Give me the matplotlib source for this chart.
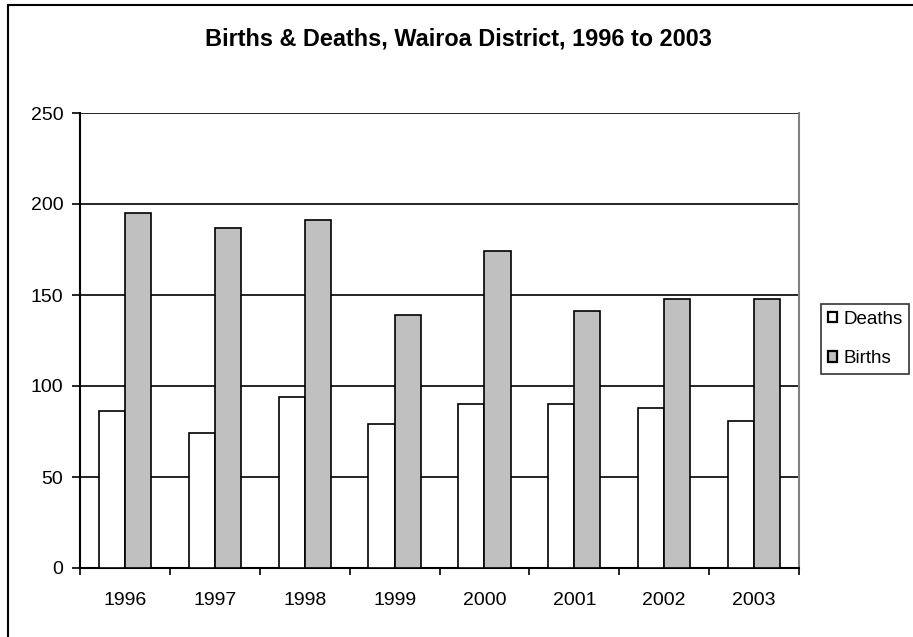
import matplotlib
matplotlib.use("Agg")
import matplotlib.pyplot as plt
import matplotlib.patches as mpatches
import numpy as np

years = ["1996", "1997", "1998", "1999", "2000", "2001", "2002", "2003"]
deaths = [86, 74, 94, 79, 90, 90, 88, 81]
births = [195, 187, 191, 139, 174, 141, 148, 148]
yticks = [0, 50, 100, 150, 200, 250]

plt.rcParams['font.family'] = ['Liberation Sans', 'DejaVu Sans']

W, H = 913, 637
fig = plt.figure(figsize=(W / 100, H / 100), dpi=100)
L, R, T, B = 80, 799, 113, 568
ax = fig.add_axes([L / W, 1 - B / H, (R - L) / W, (B - T) / H])

x = np.arange(len(years))
bw = 0.29
ax.bar(x - bw / 2, deaths, bw, color="white", edgecolor="black", linewidth=1.2, label="Deaths", zorder=3)
ax.bar(x + bw / 2, births, bw, color="#c0c0c0", edgecolor="black", linewidth=1.2, label="Births", zorder=3)

ax.set_xlim(-0.5, len(years) - 0.5)
ax.set_ylim(0, 250)
ax.set_yticks(yticks)
ax.set_yticklabels([str(v) for v in yticks], fontsize=14)
ax.yaxis.grid(True, color="black", linewidth=1.2, zorder=0)
ax.set_axisbelow(True)

# category boundaries as major ticks, labels as minor
ax.set_xticks(np.arange(-0.5, len(years), 1.0))
ax.set_xticklabels([])
ax.set_xticks(x, minor=True)
ax.set_xticklabels(years, minor=True, fontsize=14)
ax.tick_params(axis="x", which="minor", length=0, pad=17)
ax.tick_params(axis="x", which="major", direction="out", length=5, width=1.2)
ax.tick_params(axis="y", direction="out", length=6, width=1.2, pad=6)

for s in ["left", "bottom"]:
    ax.spines[s].set_color("black")
    ax.spines[s].set_linewidth(1.5)
ax.spines["top"].set_visible(False)
ax.spines["right"].set_color("#808080")
ax.spines["right"].set_linewidth(1.5)

fig.text(0.502, 1 - 39 / H, "Births & Deaths, Wairoa District, 1996 to 2003",
         ha="center", va="center", fontsize=16.9, fontweight="bold")

leg = fig.legend(loc="upper left", bbox_to_anchor=(821 / W, 1 - 304 / H),
                 fontsize=13.5, frameon=True, fancybox=False, edgecolor="black",
                 handlelength=0.5, handleheight=0.5, handletextpad=0.35,
                 borderpad=0.35, labelspacing=1.2, borderaxespad=0)
leg.get_frame().set_linewidth(1.2)
for h in leg.legend_handles:
    h.set_linewidth(1.6)

border = mpatches.Rectangle((8 / W, -0.05), 1.0, 1 - 5 / H + 0.05,
                            transform=fig.transFigure, fill=False,
                            edgecolor="black", linewidth=1.5)
fig.patches.append(border)

fig.savefig("out.png", dpi=100)
